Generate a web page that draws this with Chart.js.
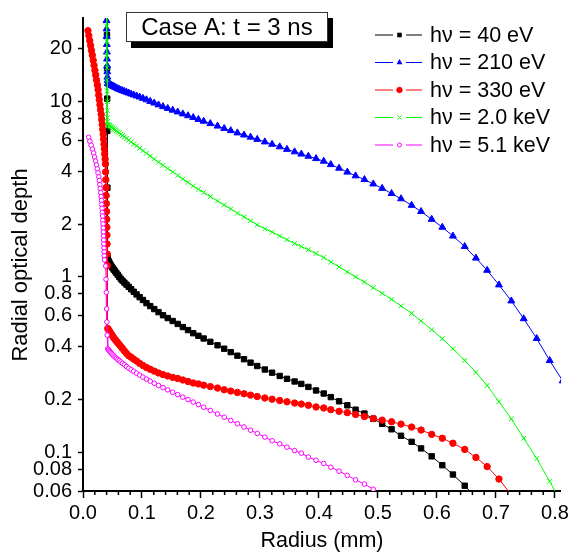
<!DOCTYPE html>
<html lang="en">
<head>
<meta charset="UTF-8">
<title>Radial optical depth</title>
<script src="https://cdn.jsdelivr.net/npm/chart.js"></script>
<style>
  html, body { margin: 0; padding: 0; background: #fff; }
  #wrap { width: 572px; height: 555px; }
</style>
</head>
<body>
<div id="wrap"><canvas id="depthChart" width="572" height="555"></canvas></div>
<script>
// outer radial grid (mm), shared by all photon energies
const radius = [
  0.0420, 0.0432, 0.0445, 0.0459, 0.0474, 0.0490, 0.0507, 0.0525, 0.0545, 0.0566,
  0.0589, 0.0614, 0.0641, 0.0670, 0.0702, 0.0737, 0.0775, 0.0816, 0.0860, 0.0908,
  0.0960, 0.1016, 0.1076, 0.1140, 0.1208, 0.1280, 0.1356, 0.1436, 0.1520, 0.1605,
  0.1692, 0.1780, 0.1868, 0.1956, 0.2045, 0.2158, 0.2280, 0.2393, 0.2504, 0.2617,
  0.2729, 0.2840, 0.2953, 0.3082, 0.3205, 0.3334, 0.3457, 0.3587, 0.3700, 0.3820,
  0.3950, 0.4080, 0.4200, 0.4340, 0.4480, 0.4620, 0.4770, 0.4920, 0.5070, 0.5230,
  0.5390, 0.5570, 0.5730, 0.5910, 0.6090, 0.6270, 0.6470, 0.6660, 0.6850, 0.7050,
  0.7260, 0.7470, 0.7690, 0.7910, 0.8130
];

// optical depth on that grid
const tau40 = [
  1.257, 1.235, 1.21, 1.185, 1.16, 1.138, 1.118, 1.097, 1.075, 1.051,
  1.027, 1.0, 0.973, 0.951, 0.927, 0.903, 0.877, 0.850, 0.822, 0.794,
  0.766, 0.738, 0.708, 0.681, 0.655, 0.629, 0.604, 0.582, 0.560, 0.539,
  0.517, 0.497, 0.477, 0.461, 0.445, 0.426, 0.407, 0.389, 0.372, 0.355,
  0.339, 0.324, 0.310, 0.296, 0.284, 0.272, 0.262, 0.253, 0.245, 0.2355,
  0.2248, 0.216, 0.206, 0.195, 0.185, 0.1747, 0.166, 0.155, 0.145, 0.135,
  0.124, 0.1145, 0.105, 0.0946, 0.0842, 0.0745, 0.0643, 0.055
];
const tau210 = [
  12.7, 12.64, 12.57, 12.50, 12.42, 12.34, 12.26, 12.17, 12.07, 11.97,
  11.85, 11.75, 11.65, 11.55, 11.44, 11.32, 11.19, 11.05, 10.92, 10.77,
  10.62, 10.44, 10.24, 10.03, 9.81, 9.58, 9.36, 9.15, 8.94, 8.73,
  8.51, 8.31, 8.11, 7.91, 7.73, 7.49, 7.25, 7.03, 6.83, 6.63,
  6.45, 6.27, 6.09, 5.89, 5.71, 5.52, 5.34, 5.17, 5.02, 4.88,
  4.73, 4.57, 4.37, 4.17, 3.96, 3.77, 3.59, 3.39, 3.20, 2.99,
  2.79, 2.56, 2.36, 2.13, 1.92, 1.71, 1.49, 1.28, 1.09, 0.90,
  0.729, 0.577, 0.445, 0.333, 0.255
];
const tau330 = [
  0.507, 0.500, 0.492, 0.483, 0.475, 0.466, 0.457, 0.447, 0.439, 0.430,
  0.421, 0.411, 0.401, 0.390, 0.378, 0.366, 0.355, 0.348, 0.339, 0.331,
  0.321, 0.312, 0.304, 0.297, 0.290, 0.283, 0.277, 0.272, 0.267, 0.263,
  0.258, 0.253, 0.248, 0.245, 0.241, 0.2365, 0.232, 0.227, 0.223, 0.219,
  0.2153, 0.2115, 0.2076, 0.2037, 0.2004, 0.197, 0.1937, 0.1905, 0.188, 0.185,
  0.181, 0.1786, 0.1747, 0.171, 0.168, 0.164, 0.1596, 0.1555, 0.1523, 0.149,
  0.1445, 0.139, 0.1337, 0.1263, 0.120, 0.1124, 0.1036, 0.0933, 0.0827, 0.0702,
  0.057
];
const tau2k = [
  7.41, 7.36, 7.30, 7.24, 7.18, 7.12, 7.05, 6.97, 6.89, 6.81,
  6.72, 6.62, 6.52, 6.41, 6.29, 6.17, 6.03, 5.89, 5.74, 5.59,
  5.42, 5.25, 5.07, 4.89, 4.70, 4.51, 4.33, 4.15, 3.97, 3.79,
  3.62, 3.46, 3.30, 3.16, 3.03, 2.87, 2.71, 2.57, 2.44, 2.31,
  2.20, 2.09, 1.98, 1.88, 1.80, 1.71, 1.63, 1.55, 1.49, 1.43,
  1.36, 1.29, 1.215, 1.139, 1.067, 1.0, 0.935, 0.867, 0.805, 0.745,
  0.683, 0.619, 0.560, 0.500, 0.444, 0.389, 0.334, 0.285, 0.240, 0.194,
  0.155, 0.120, 0.0918, 0.068, 0.050
];
const tau5k = [
  0.388, 0.384, 0.379, 0.374, 0.369, 0.364, 0.358, 0.353, 0.348, 0.343,
  0.338, 0.333, 0.327, 0.321, 0.315, 0.308, 0.301, 0.295, 0.289, 0.282,
  0.275, 0.268, 0.261, 0.254, 0.247, 0.240, 0.2334, 0.2266, 0.2196, 0.2128,
  0.206, 0.1995, 0.193, 0.1867, 0.1804, 0.1729, 0.1651, 0.1581, 0.1516, 0.1452,
  0.1392, 0.1334, 0.1278, 0.1217, 0.1161, 0.1115, 0.1068, 0.102, 0.0987, 0.0937,
  0.0898, 0.0861, 0.082, 0.0779, 0.0736, 0.0695, 0.0657, 0.0614, 0.057
];

// compressed shell just inside 0.042 mm
const shellR40 = [0.0404, 0.0406, 0.0408, 0.0410, 0.0412, 0.0414, 0.0417];
const shell40 = [40, 24, 15.5, 10.4, 6.8, 3.23, 1.32];
const shellR210 = [0.0396, 0.0398, 0.0400, 0.0402, 0.0404, 0.0406, 0.0408, 0.0410, 0.0412, 0.0414, 0.0417];
const shell210 = [40, 29, 26, 23.5, 21.2, 19.2, 17.5, 16, 14.8, 13.8, 13.2];
const shellR2k = [0.0398, 0.0400, 0.0402, 0.0404, 0.0406, 0.0408, 0.0410, 0.0412, 0.0414, 0.0416, 0.0418];
const shell2k = [40, 27, 22, 18.5, 15.6, 13.3, 11.5, 10.0, 8.9, 8.1, 7.7];

// core (r < 0.042 mm) for 330 eV and 5.1 keV
const coreR330 = [
  0.0084, 0.0099, 0.0114, 0.0129, 0.0143, 0.0158, 0.0173, 0.0187, 0.0202, 0.0215,
  0.0229, 0.0244, 0.0256, 0.0266, 0.0276, 0.0287, 0.0297, 0.0309, 0.0317, 0.0326,
  0.0334, 0.0343, 0.0349, 0.0356, 0.0363, 0.0368, 0.0375, 0.0381,
  0.0384, 0.0387, 0.0390, 0.0393, 0.0396, 0.0399, 0.0402, 0.0404, 0.0406, 0.0408, 0.0410, 0.0413
];
const core330 = [
  25.4, 23.8, 22.3, 20.9, 19.6, 18.4, 17.2, 16.1, 15.1, 14.2,
  13.3, 12.45, 11.7, 10.9, 10.25, 9.60, 9.00, 8.44, 7.91, 7.41,
  6.94, 6.51, 6.10, 5.71, 5.36, 5.02, 4.70, 4.41,
  3.97, 3.58, 3.23, 2.91, 2.62, 2.36, 2.13, 1.92, 1.73, 1.54, 1.35, 1.16
];
const coreR5k = [
  0.0096, 0.0116, 0.0138, 0.0160, 0.0180, 0.0197, 0.0213, 0.0229, 0.0242, 0.0255,
  0.0269, 0.0277, 0.0286, 0.0292, 0.0301, 0.0309, 0.0314, 0.0318, 0.0323, 0.0328,
  0.0333, 0.0336, 0.0340, 0.0343, 0.0345, 0.0348, 0.0351, 0.0353, 0.0356, 0.0359,
  0.0360, 0.0364,
  0.0385, 0.0390, 0.0395, 0.0400, 0.0405, 0.0410
];
const core5k = [
  6.26, 5.94, 5.64, 5.36, 5.09, 4.83, 4.58, 4.35, 4.13, 3.92,
  3.72, 3.54, 3.36, 3.19, 3.03, 2.87, 2.73, 2.59, 2.46, 2.33,
  2.22, 2.10, 2.00, 1.90, 1.80, 1.71, 1.62, 1.54, 1.46, 1.39,
  1.32, 1.25,
  1.153, 0.969, 0.816, 0.657, 0.553, 0.465
];

const labels = ['hν = 40 eV', 'hν = 210 eV', 'hν = 330 eV', 'hν = 2.0 keV', 'hν = 5.1 keV'];
const xTicks = [0, 0.1, 0.2, 0.3, 0.4, 0.5, 0.6, 0.7, 0.8];
const xMinorTicks = [0.02, 0.04, 0.06, 0.08, 0.12, 0.14, 0.16, 0.18, 0.22, 0.24, 0.26, 0.28,
  0.32, 0.34, 0.36, 0.38, 0.42, 0.44, 0.46, 0.48, 0.52, 0.54, 0.56, 0.58,
  0.62, 0.64, 0.66, 0.68, 0.72, 0.74, 0.76, 0.78];
const yTicks = [0.06, 0.08, 0.1, 0.2, 0.4, 0.6, 0.8, 1, 2, 4, 6, 8, 10, 20];

function pairs(inR, inV, vals) {
  const rs = inR.concat(radius.slice(0, vals.length));
  const vs = inV.concat(vals);
  return rs.map((r, i) => ({ x: r, y: vs[i] }));
}

const FONT = '"Liberation Sans", Arial, sans-serif';
Chart.defaults.font.family = FONT;
Chart.defaults.font.size = 20;
Chart.defaults.color = '#000';

const styles = [
  { color: '#000000', point: 'rect', r: 3.8, fill: '#000000', order: 4 },
  { color: '#0000ff', point: 'triangle', r: 4.0, fill: '#0000ff', order: 3 },
  { color: '#ff0000', point: 'circle', r: 3.2, fill: '#ff0000', order: 2 },
  { color: '#00ff00', point: 'crossRot', r: 3.4, fill: '#00ff00', order: 1 },
  { color: '#ff00ff', point: 'circle', r: 2.3, fill: '#ffffff', order: 0 }
];
const dataSets = [
  pairs(shellR40, shell40, tau40),
  pairs(shellR210, shell210, tau210),
  pairs(coreR330, core330, tau330),
  pairs(shellR2k, shell2k, tau2k),
  pairs(coreR5k, core5k, tau5k)
];

function marker(ctx, s, x, y, r) {
  ctx.fillStyle = s.fill;
  ctx.strokeStyle = s.color;
  ctx.lineWidth = 1;
  ctx.beginPath();
  if (s.point === 'rect') {
    const h = r / Math.SQRT2;
    ctx.rect(x - h, y - h, 2 * h, 2 * h);
    ctx.fill();
  } else if (s.point === 'triangle') {
    ctx.moveTo(x, y - r);
    ctx.lineTo(x + r * 0.866, y + r * 0.5);
    ctx.lineTo(x - r * 0.866, y + r * 0.5);
    ctx.closePath();
    ctx.fill();
  } else if (s.point === 'crossRot') {
    const h = r * 0.707;
    ctx.moveTo(x - h, y - h); ctx.lineTo(x + h, y + h);
    ctx.moveTo(x + h, y - h); ctx.lineTo(x - h, y + h);
    ctx.stroke();
  } else {
    ctx.arc(x, y, r, 0, Math.PI * 2);
    ctx.fill();
    ctx.stroke();
  }
}

const extras = {
  id: 'extras',
  afterDraw(chart) {
    const ctx = chart.ctx;
    const xs = chart.scales.x;
    const area = chart.chartArea;
    ctx.save();

    // minor ticks on the radius axis
    ctx.strokeStyle = '#000';
    ctx.lineWidth = 1.5;
    xMinorTicks.forEach(v => {
      const px = xs.getPixelForValue(v);
      ctx.beginPath();
      ctx.moveTo(px, area.bottom);
      ctx.lineTo(px, area.bottom + 4);
      ctx.stroke();
    });

    // y axis title (sits a bit below the axis centre in the original)
    ctx.save();
    ctx.translate(21, 265);
    ctx.rotate(-Math.PI / 2);
    ctx.fillStyle = '#000';
    ctx.font = '22px ' + FONT;
    ctx.textAlign = 'center';
    ctx.textBaseline = 'middle';
    ctx.fillText('Radial optical depth', 0, 0);
    ctx.restore();

    // "Case A" box with drop shadow
    ctx.fillStyle = '#000';
    ctx.fillRect(131, 18, 202, 30);
    ctx.fillStyle = '#fff';
    ctx.fillRect(126, 12, 202, 30);
    ctx.strokeStyle = '#333';
    ctx.lineWidth = 1;
    ctx.strokeRect(126.5, 12.5, 201, 29);
    ctx.fillStyle = '#000';
    ctx.font = '24px ' + FONT;
    ctx.textAlign = 'center';
    ctx.textBaseline = 'middle';
    ctx.fillText('Case A: t = 3 ns', 227, 28);

    // legend: line - marker - line
    ctx.font = '21.5px ' + FONT;
    ctx.textAlign = 'left';
    styles.forEach((s, i) => {
      const y = 35 + i * 27.5;
      ctx.strokeStyle = s.color;
      ctx.lineWidth = 1;
      ctx.beginPath();
      ctx.moveTo(375, y); ctx.lineTo(393, y);
      ctx.moveTo(406, y); ctx.lineTo(422, y);
      ctx.stroke();
      marker(ctx, s, 399.5, y, s.r * 0.85);
      ctx.fillStyle = '#000';
      ctx.fillText(labels[i], 430, y + 1);
    });
    ctx.restore();
  }
};

new Chart(document.getElementById('depthChart'), {
  type: 'line',
  data: {
    datasets: dataSets.map((d, i) => ({
      label: labels[i],
      data: d,
      borderColor: styles[i].color,
      borderWidth: 1,
      pointStyle: styles[i].point,
      pointRadius: styles[i].r,
      pointHoverRadius: styles[i].r,
      pointBackgroundColor: styles[i].fill,
      pointBorderColor: styles[i].color,
      pointBorderWidth: 1,
      tension: 0,
      clip: 0,
      order: styles[i].order
    }))
  },
  options: {
    responsive: false,
    animation: false,
    events: [],
    layout: { padding: { top: 11, right: 8, bottom: 0, left: 0 } },
    plugins: { legend: { display: false }, tooltip: { enabled: false } },
    scales: {
      x: {
        type: 'linear',
        min: 0,
        max: 0.81,
        afterBuildTicks: s => { s.ticks = xTicks.map(v => ({ value: v })); },
        afterFit: s => { s.height = 64; },
        ticks: { callback: v => v.toFixed(1), padding: 3, maxRotation: 0, autoSkip: false, color: '#000' },
        grid: { drawOnChartArea: false, drawTicks: true, tickLength: 7, tickWidth: 1.5, tickColor: '#000' },
        border: { display: true, color: '#000', width: 2 },
        title: { display: true, text: 'Radius (mm)', font: { size: 21.5 }, color: '#000', padding: { top: 0, bottom: 1 } }
      },
      y: {
        type: 'logarithmic',
        min: 0.06,
        max: 30,
        afterBuildTicks: s => { s.ticks = yTicks.map(v => ({ value: v })); },
        afterFit: s => { s.width = 83; },
        ticks: { callback: v => String(v), padding: 6, autoSkip: false, color: '#000' },
        grid: { drawOnChartArea: false, drawTicks: true, tickLength: 5, tickWidth: 1.5, tickColor: '#000' },
        border: { display: true, color: '#000', width: 2 },
        title: { display: false }
      }
    }
  },
  plugins: [extras]
});
</script>
</body>
</html>
